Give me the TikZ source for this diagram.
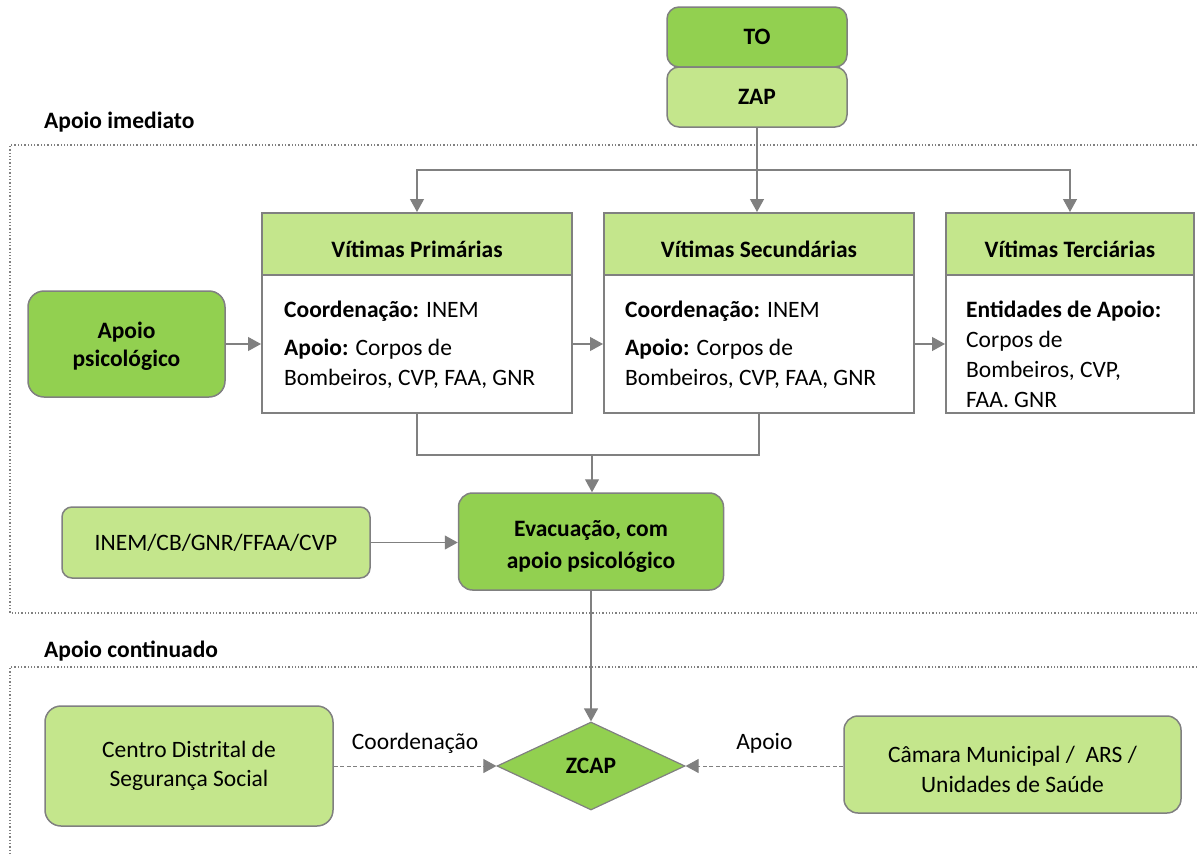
\documentclass[tikz,border=0pt]{standalone}
\usepackage{fontspec}
\setmainfont{Carlito}
\usetikzlibrary{shapes.geometric,arrows.meta}
\definecolor{gbright}{HTML}{92D050}
\definecolor{glight}{HTML}{C4E68C}
\definecolor{bord}{HTML}{808080}
\newcommand{\fs}[1]{\fontsize{23.5}{#1}\selectfont}
\begin{document}
\begin{tikzpicture}[x=1pt,y=-1pt,
  every node/.style={font=\fs{29}, inner sep=0pt},
  rbox/.style={draw=bord, line width=1.5pt, rounded corners=12pt, align=center},
  bright/.style={rbox, fill=gbright},
  light/.style={rbox, fill=glight},
  hdr/.style={draw=bord, line width=2pt, fill=glight},
  hdrtxt/.style={font=\fs{29}\bfseries},
  bodybox/.style={draw=bord, line width=2pt, fill=white},
  txt/.style={anchor=base west},
  arr/.style={draw=bord, line width=1.2pt, -{Triangle[length=13pt,width=14pt]}},
  ln/.style={draw=bord, line width=1.2pt},
  dsh/.style={draw=bord, line width=1pt, dash pattern=on 4pt off 2.5pt, -{Triangle[length=13pt,width=14pt]}},
  frame/.style={draw=bord, line width=1.3pt, dotted}]
\useasboundingbox (0,0) rectangle (1197,854);

% frames
\draw[frame] (1197,145) -- (10,145) -- (10,613) -- (1197,613);
\draw[frame] (1197,667) -- (10,667) -- (10,854);
\node[anchor=west, font=\fs{29}\bfseries] (lab1) at (44,122) {Apoio imediato};
\node[anchor=west, font=\fs{29}\bfseries] (lab2) at (44,651) {Apoio continuado};

% top
\node[bright, minimum width=180pt, minimum height=60pt, font=\fs{29}\bfseries] (to) at (757,37) {TO};
\node[light, minimum width=180pt, minimum height=60pt, font=\fs{29}\bfseries] (zap) at (757,97) {ZAP};

% victims boxes
\node[hdr, minimum width=310pt, minimum height=62pt] (primh) at (417,244) {};
\node[hdrtxt] (primht) at ([yshift=-5pt]primh.center) {Vítimas Primárias};
\node[bodybox, minimum width=310pt, minimum height=138pt] (primb) at (417,344) {};
\node[hdr, minimum width=310pt, minimum height=62pt] (sech) at (759,244) {};
\node[hdrtxt] (secht) at ([yshift=-5pt]sech.center) {Vítimas Secundárias};
\node[bodybox, minimum width=310pt, minimum height=138pt] (secb) at (759,344) {};
\node[hdr, minimum width=248pt, minimum height=62pt] (terh) at (1070,244) {};
\node[hdrtxt] (terht) at ([yshift=-5pt]terh.center) {Vítimas Terciárias};
\node[bodybox, minimum width=248pt, minimum height=138pt] (terb) at (1070,344) {};

\node[txt] (p1) at (284,317) {\textbf{Coordenação:} INEM};
\node[txt] (p2) at (284,355) {\textbf{Apoio:} Corpos de};
\node[txt] (p3) at (284,385) {Bombeiros, CVP, FAA, GNR};
\node[txt] (s1) at (625,317) {\textbf{Coordenação:} INEM};
\node[txt] (s2) at (625,355) {\textbf{Apoio:} Corpos de};
\node[txt] (s3) at (625,385) {Bombeiros, CVP, FAA, GNR};
\begin{scope}
\clip (947,276) rectangle (1193,409);
\node[txt] (t1) at (966,317) {\textbf{Entidades de Apoio:}};
\node[txt] (t2) at (966,347) {Corpos de};
\node[txt] (t3) at (966,377) {Bombeiros, CVP,};
\node[txt] (t4) at (966,407) {FAA. GNR};
\end{scope}

\node[bright, minimum width=197pt, minimum height=106pt, rounded corners=16pt] (psi) at (126.5,344) {};
\node[font=\fs{28}\bfseries, align=center] (psit) at ([yshift=-2pt]psi.center) {Apoio\\psicológico};

\node[bright, minimum width=265pt, minimum height=97pt, rounded corners=14pt] (evac) at (591,541.5) {};
\node[font=\fs{32}\bfseries, align=center] (evact) at ([yshift=-5pt]evac.center) {Evacuação, com\\apoio psicológico};
\node[light, minimum width=308pt, minimum height=71pt, rounded corners=10pt] (inem) at (216,542.5) {INEM/CB/GNR/FFAA/CVP};

\node[diamond, draw=bord, line width=1.2pt, fill=gbright, aspect=2.14, minimum width=188pt, minimum height=88pt, font=\fs{29}\bfseries] (zcap) at (591,766) {ZCAP};
\node[light, minimum width=288pt, minimum height=120pt, rounded corners=16pt] (centro) at (189,766) {Centro Distrital de\\Segurança Social};
\node[light, minimum width=337pt, minimum height=97pt, rounded corners=14pt] (camara) at (1012.5,764.5) {};
\node[font=\fs{30}, align=center] (camarat) at ([yshift=-5pt]camara.center) {Câmara Municipal /\ \ ARS /\\Unidades de Saúde};

% connectors
\coordinate (br) at (757,170);
\draw[arr] (zap.south) -- (zap.south |- sech.north);
\draw[arr] (br) -| (primh.north);
\draw[arr] (br) -| (terh.north);
\draw[arr] (psi.east) -- (primb.west |- psi.east);
\draw[arr] (primb.east) -- (secb.west);
\draw[arr] (secb.east) -- (terb.west);
\coordinate (jn) at (592,455);
\draw[ln] (primb.south) |- (jn) -| (secb.south);
\draw[arr] (jn) -- (jn |- evac.north);
\draw[arr] (inem.east) -- (evac.west |- inem.east);
\draw[arr] (evac.south) -- (zcap.north);
\draw[dsh] (centro.east |- zcap.west) -- node[above=12pt] (lc) {Coordenação} (zcap.west);
\draw[dsh] (camara.west |- zcap.east) -- node[above=12pt] (la) {Apoio} (zcap.east);
\end{tikzpicture}
\end{document}
